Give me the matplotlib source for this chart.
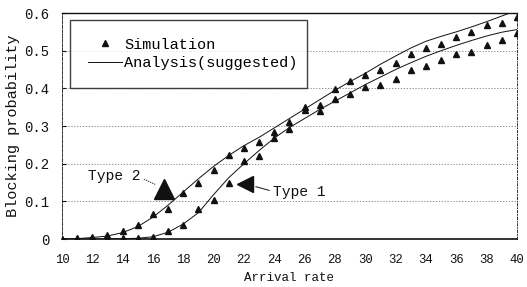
import numpy as np
import matplotlib
matplotlib.use('Agg')
import matplotlib.pyplot as plt

# ======================================================================================================================
# Data
# ======================================================================================================================
arrival_rate = np.arange(10, 41)  # Arrival rate, 10 -> 40

# Simulation points (triangles)
sim_type2 = [0.0, 0.003, 0.006, 0.011, 0.020, 0.037, 0.066, 0.081, 0.123, 0.150, 0.184,
             0.223, 0.242, 0.257, 0.285, 0.311, 0.351, 0.355, 0.397, 0.420, 0.435,
             0.450, 0.466, 0.490, 0.506, 0.519, 0.537, 0.550, 0.567, 0.574, 0.590]
sim_type1 = [0.0, 0.0, 0.001, 0.001, 0.002, 0.003, 0.006, 0.020, 0.037, 0.079, 0.104,
             0.150, 0.208, 0.220, 0.268, 0.291, 0.342, 0.340, 0.372, 0.386, 0.404,
             0.408, 0.424, 0.448, 0.460, 0.475, 0.490, 0.497, 0.515, 0.528, 0.546]

# Analysis (suggested) curves
ana_type2 = [0.0, 0.001, 0.004, 0.008, 0.017, 0.033, 0.058, 0.090, 0.125, 0.160, 0.193,
             0.222, 0.248, 0.270, 0.295, 0.320, 0.345, 0.370, 0.395, 0.418, 0.440,
             0.464, 0.486, 0.507, 0.525, 0.538, 0.550, 0.563, 0.577, 0.592, 0.607]
ana_type1 = [0.0, 0.0, 0.0, 0.0, 0.001, 0.002, 0.006, 0.018, 0.040, 0.070, 0.118,
             0.163, 0.200, 0.235, 0.268, 0.296, 0.320, 0.344, 0.366, 0.388, 0.410,
             0.430, 0.450, 0.468, 0.485, 0.500, 0.514, 0.527, 0.539, 0.549, 0.556]

x_ticks = np.arange(10, 41, 2)
y_ticks = [0, 0.1, 0.2, 0.3, 0.4, 0.5, 0.6]
y_tick_labels = ['0', '0.1', '0.2', '0.3', '0.4', '0.5', '0.6']

plt.rcParams['font.family'] = ['Liberation Mono', 'DejaVu Sans Mono']
ink = '#111111'

fig = plt.figure(figsize=(5.27, 2.87), dpi=100)
ax = fig.add_axes([0.1176, 0.1672, 0.8634, 0.7875])

# Curves and points
ax.plot(arrival_rate, ana_type2, color=ink, lw=0.7, label='Analysis(suggested)', zorder=3)
ax.plot(arrival_rate, ana_type1, color=ink, lw=0.7, zorder=3)
ax.plot(arrival_rate, sim_type2, ls='none', marker='^', ms=4.5, color=ink, label='Simulation', zorder=4)
ax.plot(arrival_rate, sim_type1, ls='none', marker='^', ms=4.5, color=ink, zorder=4)

# Axes setup
ax.set_xlim(10, 40)
ax.set_ylim(0, 0.6)
ax.set_xticks(x_ticks)
ax.set_yticks(y_ticks)
ax.set_yticklabels(y_tick_labels)
ax.tick_params(axis='x', length=0, pad=11, labelsize=8.8, colors=ink)
ax.tick_params(axis='y', length=3, direction='in', pad=9, labelsize=10, colors=ink)
ax.set_xlabel('Arrival rate', fontsize=9, color=ink, labelpad=4)
ax.set_ylabel('Blocking probability', fontsize=11, color=ink, labelpad=3)

for y in y_ticks[1:-1]:
    ax.axhline(y, color='#777777', lw=0.6, ls=(0, (1.5, 2)), zorder=1)

ax.spines['top'].set_linewidth(1.0)
ax.spines['bottom'].set_linewidth(1.2)
ax.spines['left'].set_linewidth(0.6)
ax.spines['left'].set_linestyle((0, (4, 1.5)))
ax.spines['right'].set_linewidth(0.6)
ax.spines['right'].set_linestyle((0, (3, 2, 1, 2)))
for s in ax.spines.values():
    s.set_color(ink)

# Legend box
handles, labels = ax.get_legend_handles_labels()
leg = ax.legend(handles[::-1], labels[::-1], loc='upper left',
                bbox_to_anchor=(0.0176, 0.655, 0.52, 0.314), mode='expand',
                fontsize=11, frameon=True, fancybox=False, edgecolor=ink,
                borderpad=1.15, labelspacing=0.3, handlelength=2.25, handletextpad=0.15,
                borderaxespad=0)
leg.get_frame().set_linewidth(1.0)

# Type annotations
ax.annotate('', xy=(16.35, 0.141), xytext=(15.25, 0.162),
            arrowprops=dict(arrowstyle='-', color=ink, lw=0.6, ls=':'))
ax.text(15.15, 0.167, 'Type 2', fontsize=10.5, ha='right', va='center', color=ink)
ax.plot([16.72], [0.133], marker='^', ms=14, color=ink, ls='none')

ax.annotate('', xy=(22.6, 0.141), xytext=(23.85, 0.127),
            arrowprops=dict(arrowstyle='-', color=ink, lw=0.7))
ax.text(23.9, 0.125, 'Type 1', fontsize=10.5, ha='left', va='center', color=ink)
ax.plot([22.1], [0.146], marker='<', ms=12, color=ink, ls='none')

fig.savefig('out.png', dpi=100)
